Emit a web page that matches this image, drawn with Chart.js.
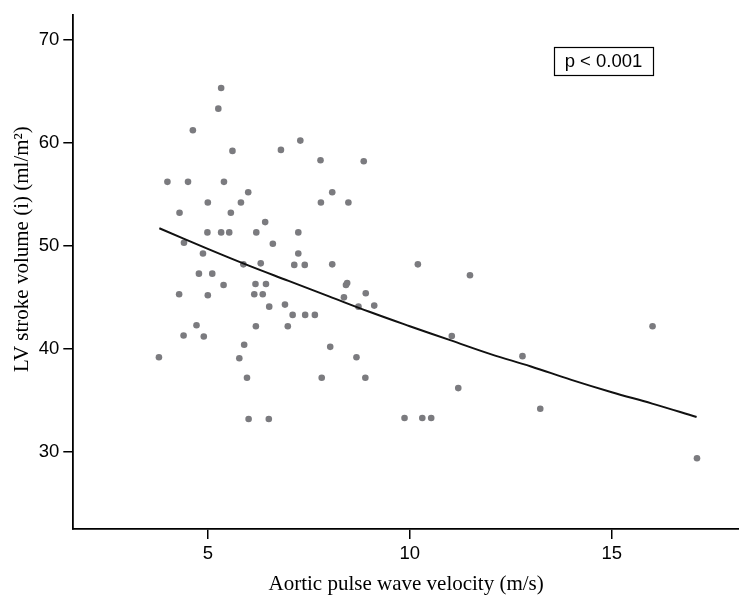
<!DOCTYPE html>
<html>
<head>
<meta charset="utf-8">
<script src="https://cdn.jsdelivr.net/npm/chart.js@4.4.0/dist/chart.umd.min.js"></script>
<style>
  body { margin: 0; background: #fff; }
  #wrap { width: 739px; height: 595px; position: relative; }
</style>
</head>
<body>
<div id="wrap"><canvas id="pwvChart"></canvas></div>
<script>
// Aortic PWV (m/s) per patient
const pwv = [
  4.0, 4.51, 4.30, 4.63, 5.33, 5.26, 5.61, 5.40, 5.0, 5.57,
  6.0, 5.82, 4.41, 4.99, 5.33, 5.53, 6.20, 6.42, 4.88, 6.61,
  5.88, 6.31, 4.78, 5.11, 5.39, 6.18, 6.44, 4.29, 5.0, 6.15,
  6.36, 6.81, 7.29, 7.79, 8.86, 7.80, 8.08, 8.48, 7.24, 7.24,
  7.14, 7.40, 8.08, 8.45, 8.42, 8.91, 8.37, 3.79, 4.40, 4.72,
  4.90, 5.90, 5.78, 5.97, 6.01, 6.51, 6.19, 6.52, 6.91, 7.10,
  6.98, 7.41, 7.65, 8.03, 7.82, 8.68, 8.90, 8.73, 9.12, 11.04,
  12.79, 11.20, 9.87, 10.31, 10.53, 13.23, 16.01, 17.11, 10.20, 11.49
];
// LV stroke volume index (ml/m2), same order
const lvsvi = [
  56.2, 56.2, 53.2, 61.2, 65.3, 63.3, 59.2, 56.2, 54.2, 53.2,
  55.2, 54.2, 50.3, 51.3, 51.3, 51.3, 51.3, 52.3, 49.25, 50.2,
  48.2, 48.3, 47.3, 47.3, 46.2, 46.3, 46.3, 45.3, 45.2, 45.3,
  45.3, 59.3, 60.2, 58.3, 58.2, 54.2, 55.2, 54.2, 51.3, 49.25,
  48.15, 48.15, 48.2, 46.4, 46.2, 45.4, 45.0, 39.2, 41.3, 42.3,
  41.2, 40.4, 39.1, 37.2, 33.2, 33.2, 42.2, 44.1, 44.3, 43.3,
  42.2, 43.3, 43.3, 40.2, 37.2, 39.2, 37.2, 44.1, 44.2, 41.26,
  39.3, 36.2, 33.3, 33.3, 33.3, 34.2, 42.2, 29.4, 48.2, 47.15
];
// fitted curve
const fitX = [3.8, 5, 6, 7, 8, 9, 10, 11, 12, 13, 14, 15, 16, 17.1];
const fitY = [51.7, 49.7, 48.1, 46.6, 45.1, 43.6, 42.2, 40.85, 39.5, 38.3, 37.0, 35.8, 34.7, 33.4];

const xTicks = [5, 10, 15];
const yTicks = [30, 40, 50, 60, 70];
const pLabel = "p < 0.001";
const yTitle = "LV stroke volume (i) (ml/m²)";

// p-value box, in data units
const pBox = { x0: 13.57, x1: 16.02, y0: 69.26, y1: 66.53 };

const tickFont = { family: "'Liberation Sans', Arial, sans-serif", size: 18.5 };
const titleFont = { family: "'Liberation Serif', 'Times New Roman', serif", size: 21, lineHeight: 1 };

// p box + y title (the title sits a bit above the axis middle in the original)
const extrasPlugin = {
  id: 'extras',
  afterDraw(chart) {
    const { ctx, chartArea, scales: { x, y } } = chart;
    const l = x.getPixelForValue(pBox.x0), r = x.getPixelForValue(pBox.x1);
    const t = y.getPixelForValue(pBox.y0), b = y.getPixelForValue(pBox.y1);
    ctx.save();
    ctx.strokeStyle = '#000';
    ctx.lineWidth = 1.2;
    ctx.strokeRect(Math.round(l) + 0.5, Math.round(t) + 0.5, Math.round(r - l), Math.round(b - t));
    ctx.fillStyle = '#000';
    ctx.font = `${tickFont.size}px ${tickFont.family}`;
    ctx.textAlign = 'center';
    ctx.textBaseline = 'middle';
    ctx.fillText(pLabel, (l + r) / 2, (t + b) / 2 + 1);

    ctx.translate(22, (chartArea.top + chartArea.bottom) / 2 - 23);
    ctx.rotate(-Math.PI / 2);
    ctx.font = `${titleFont.size}px ${titleFont.family}`;
    ctx.fillText(yTitle, 0, 0);
    ctx.restore();
  }
};

const ctx = document.getElementById("pwvChart");
new Chart(ctx, {
  type: 'scatter',
  data: {
    datasets: [
      {
        label: "Patients",
        data: pwv.map((v, i) => ({ x: v, y: lvsvi[i] })),
        backgroundColor: "#7b7b7f",
        borderWidth: 0,
        pointRadius: 3.3,
        order: 2
      },
      {
        label: "Fit",
        type: 'line',
        data: fitX.map((v, i) => ({ x: v, y: fitY[i] })),
        borderColor: "#111",
        borderWidth: 2,
        pointRadius: 0,
        tension: 0.4,
        fill: false,
        order: 1
      }
    ]
  },
  options: {
    responsive: true,
    maintainAspectRatio: false,
    animation: false,
    layout: { autoPadding: false, padding: { top: 12.7, right: 0, bottom: 0, left: 0 } },
    plugins: {
      legend: { display: false },
      tooltip: { enabled: false }
    },
    scales: {
      x: {
        type: 'linear',
        min: 1.67,
        max: 18.15,
        afterFit(s) { s.height = 66; },
        afterBuildTicks(s) { s.ticks = xTicks.map(v => ({ value: v })); },
        grid: { drawOnChartArea: false, drawTicks: true, tickLength: 10, color: '#000', lineWidth: 1.5 },
        border: { display: true, color: '#000', width: 1.8 },
        ticks: { color: '#000', font: tickFont, padding: 4, maxRotation: 0 },
        title: { display: true, text: "Aortic pulse wave velocity (m/s)", color: '#000', font: titleFont, padding: { top: 0, bottom: 0 } }
      },
      y: {
        type: 'linear',
        min: 22.54,
        max: 72.37,
        afterFit(s) { s.width = 73.3; },
        afterBuildTicks(s) { s.ticks = yTicks.map(v => ({ value: v })); },
        grid: { drawOnChartArea: false, drawTicks: true, tickLength: 10, color: '#000', lineWidth: 1.5 },
        border: { display: true, color: '#000', width: 1.8 },
        ticks: { color: '#000', font: tickFont, padding: 4 },
        title: { display: false }
      }
    }
  },
  plugins: [extrasPlugin]
});
</script>
</body>
</html>
